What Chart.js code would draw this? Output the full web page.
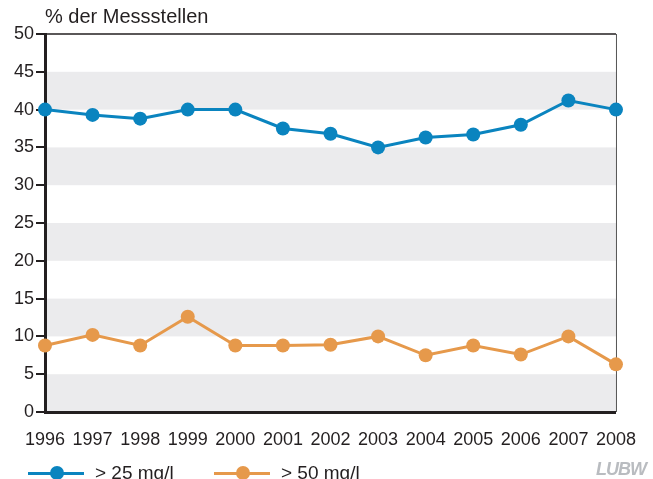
<!DOCTYPE html>
<html>
<head>
<meta charset="utf-8">
<script src="https://cdn.jsdelivr.net/npm/chart.js@4/dist/chart.umd.min.js"></script>
<style>
    body { margin: 0; background: #fff; font-family: 'Liberation Sans', Arial, sans-serif; color: #231f20; }
    #wrap { position: relative; width: 653px; height: 479px; overflow: hidden; }
    #chart { position: absolute; left: 0; top: 0; }
    .title { position: absolute; left: 45px; top: 5px; font-size: 20px; }
    .legend { position: absolute; top: 462px; font-size: 19px; display: flex; align-items: center; }
    .legend .sym { position: relative; width: 56px; height: 14px; margin-right: 11px; }
    .legend .sym i { position: absolute; left: 0; right: 0; top: 6px; height: 3px; }
    .legend .sym b { position: absolute; left: 22px; top: 0; width: 14px; height: 14px; border-radius: 50%; }
    .logo { position: absolute; left: 596px; top: 459px; font-size: 18px; font-weight: bold; font-style: italic; color: #b9bcc0; letter-spacing: -1px; }
</style>
</head>
<body>
<div id="wrap">
    <canvas id="chart" width="653" height="479"></canvas>
    <div class="title">% der Messstellen</div>
    <div class="legend" style="left: 28px;"><span class="sym"><i style="background:#0a84bf"></i><b style="background:#0a84bf"></b></span>&gt; 25 mg/l</div>
    <div class="legend" style="left: 214px;"><span class="sym"><i style="background:#e6994b"></i><b style="background:#e6994b"></b></span>&gt; 50 mg/l</div>
    <div class="logo">LUBW</div>
</div>
<script>
const years = ['1996', '1997', '1998', '1999', '2000', '2001', '2002', '2003', '2004', '2005', '2006', '2007', '2008'];
const over25 = [40.0, 39.3, 38.8, 40.0, 40.0, 37.5, 36.8, 35.0, 36.3, 36.7, 38.0, 41.2, 40.0];
const over50 = [8.8, 10.2, 8.8, 12.6, 8.8, 8.8, 8.9, 10.0, 7.5, 8.8, 7.6, 10.0, 6.3];
const yTicks = [0, 5, 10, 15, 20, 25, 30, 35, 40, 45, 50];

const BLUE = '#0a84bf';
const ORANGE = '#e6994b';
const BAND = '#ebebed';
const FONT = "'Liberation Sans', Arial, sans-serif";

// grey bands 0-5, 10-15, ... and frame lines, drawn before the axes
const bandsPlugin = {
    id: 'bands',
    beforeDraw(chart) {
        const { ctx, chartArea: a, scales: { y } } = chart;
        ctx.save();
        ctx.fillStyle = BAND;
        for (let i = 0; i < yTicks.length - 1; i += 2) {
            const top = y.getPixelForValue(yTicks[i + 1]);
            const bottom = y.getPixelForValue(yTicks[i]);
            ctx.fillRect(a.left, top, a.right - a.left, bottom - top);
        }
        // top line
        ctx.strokeStyle = '#231f20';
        ctx.lineWidth = 1.5;
        ctx.beginPath();
        ctx.moveTo(a.left, a.top);
        ctx.lineTo(a.right, a.top);
        ctx.stroke();
        // right line
        ctx.strokeStyle = '#555';
        ctx.lineWidth = 1;
        ctx.beginPath();
        ctx.moveTo(a.right + 0.5, a.top);
        ctx.lineTo(a.right + 0.5, a.bottom);
        ctx.stroke();
        ctx.restore();
    }
};

new Chart(document.getElementById('chart'), {
    type: 'line',
    data: {
        labels: years,
        datasets: [
            {
                label: '> 25 mg/l',
                data: over25,
                borderColor: BLUE,
                backgroundColor: BLUE,
                borderWidth: 3,
                pointRadius: 7,
                pointBorderWidth: 0,
                tension: 0,
                clip: false
            },
            {
                label: '> 50 mg/l',
                data: over50,
                borderColor: ORANGE,
                backgroundColor: ORANGE,
                borderWidth: 3,
                pointRadius: 7,
                pointBorderWidth: 0,
                tension: 0,
                clip: false
            }
        ]
    },
    options: {
        responsive: false,
        animation: false,
        layout: { padding: { top: 34, right: 37, bottom: 0, left: 0 } },
        plugins: {
            legend: { display: false },
            tooltip: { enabled: false }
        },
        scales: {
            x: {
                offset: false,
                grid: { display: false, drawTicks: false },
                border: { display: true, color: '#231f20', width: 3 },
                ticks: {
                    color: '#231f20',
                    padding: 17,
                    maxRotation: 0,
                    autoSkip: false,
                    font: { family: FONT, size: 18 }
                },
                afterFit: (s) => { s.height = 67; }
            },
            y: {
                min: 0,
                max: 50,
                afterBuildTicks: (s) => { s.ticks = yTicks.map(v => ({ value: v })); },
                grid: {
                    drawOnChartArea: false,
                    drawTicks: true,
                    tickLength: 9,
                    lineWidth: 2,
                    color: '#231f20'
                },
                border: { display: true, color: '#231f20', width: 3 },
                ticks: {
                    color: '#231f20',
                    padding: 2,
                    font: { family: FONT, size: 18 }
                },
                afterFit: (s) => { s.width = 45; }
            }
        }
    },
    plugins: [bandsPlugin]
});
</script>
</body>
</html>
